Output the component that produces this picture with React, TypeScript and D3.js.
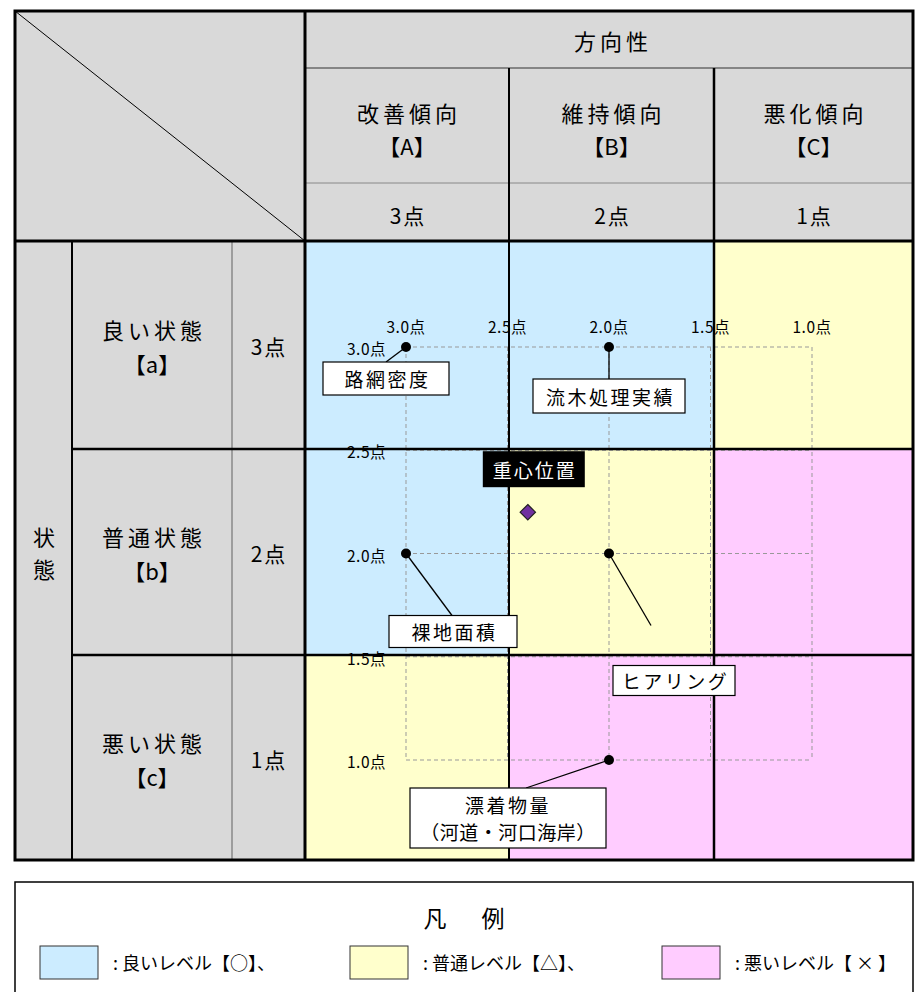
import React from "react";
import * as d3 from "d3";

// ---------- data ----------
const directionNames = ["改善傾向", "維持傾向", "悪化傾向"];
const directionCodes = ["【A】", "【B】", "【C】"];
const directionScores = ["3点", "2点", "1点"];
const stateNames = ["良い状態", "普通状態", "悪い状態"];
const stateCodes = ["【a】", "【b】", "【c】"];
const stateScores = ["3点", "2点", "1点"];
// level of each cell [row][col] : 0 good, 1 normal, 2 bad
const cellLevels = [
  [0, 0, 1],
  [0, 1, 2],
  [1, 2, 2],
];
const levelColors = ["#CCECFF", "#FFFFCC", "#FFCCFF"];
const legendLabels = [": 良いレベル【○】、", ": 普通レベル【△】、", ": 悪いレベル【 × 】"];
const axisTicks = [3.0, 2.5, 2.0, 1.5, 1.0];
const indicatorNames = ["路網密度", "流木処理実績", "裸地面積", "ヒアリング", "漂着物量|（河道・河口海岸）"];
const indicatorDirection = [3.0, 2.0, 3.0, 2.0, 2.0];
const indicatorState = [3.0, 3.0, 2.0, 2.0, 1.0];
const centroidValue = [2.4, 2.2];

// ---------- layout ----------
const FONT = "'Noto Sans CJK JP', 'Noto Sans', sans-serif";
const GRAY = "#D9D9D9";
const L = 15, R = 913, TOP = 11, BOT = 860;
const headerRows = [11, 68, 183, 241];
const bodyRows = [241, 449, 655, 860];
const bodyCols = [305, 509, 714, 913];
const leftCols = [15, 72, 232, 305];
// label boxes: offsets from point, box w/h, leader end offset
const boxLayout = [
  { dx: -20, dy: 31.5, w: 126, h: 33, lx: -20, ly: 15 },
  { dx: 0, dy: 49, w: 152, h: 34, lx: 0, ly: 32 },
  { dx: 47, dy: 78, w: 128, h: 32, lx: 46, ly: 62 },
  { dx: 65, dy: 127, w: 122, h: 30, lx: 42, ly: 72 },
  { dx: -101, dy: 58, w: 196, h: 60, lx: -83, ly: 28 },
];
const centroidBox = { dx: 6, dy: -43, w: 102, h: 36 };

export default function App() {
  const x = d3.scaleLinear().domain([3, 1]).range([406, 812]);
  const y = d3.scaleLinear().domain([3, 1]).range([347, 760]);
  const diamond = d3.symbol().type(d3.symbolDiamond2).size(150)();

  const jp = (props: any, txt: string, key?: any) => (
    <text key={key} fontFamily={FONT} fontWeight={400} fill="#000" dominantBaseline="central" textAnchor="middle" {...props}>
      {txt}
    </text>
  );

  const colMid = (i: number) => (bodyCols[i] + bodyCols[i + 1]) / 2;
  const rowMid = (i: number) => (bodyRows[i] + bodyRows[i + 1]) / 2;

  return (
    <svg width={916} height={992} style={{ position: "absolute", left: 0, top: 0, background: "#fff" }}>
      {/* fills */}
      <rect x={L} y={TOP} width={R - L} height={headerRows[3] - TOP} fill={GRAY} />
      <rect x={L} y={bodyRows[0]} width={bodyCols[0] - L} height={BOT - bodyRows[0]} fill={GRAY} />
      {cellLevels.map((row, ri) =>
        row.map((lv, ci) => (
          <rect
            key={`c${ri}${ci}`}
            x={bodyCols[ci]}
            y={bodyRows[ri]}
            width={bodyCols[ci + 1] - bodyCols[ci]}
            height={bodyRows[ri + 1] - bodyRows[ri]}
            fill={levelColors[lv]}
          />
        ))
      )}

      {/* dashed grid */}
      <g stroke="#999" strokeWidth={1} strokeDasharray="4,3" fill="none">
        {axisTicks.map((t) => (
          <line key={`gv${t}`} x1={x(t)} x2={x(t)} y1={y(3)} y2={y(1)} />
        ))}
        {axisTicks.map((t) => (
          <line key={`gh${t}`} x1={x(3)} x2={x(1)} y1={y(t)} y2={y(t)} />
        ))}
      </g>

      {/* table lines */}
      <line x1={L} y1={TOP} x2={bodyCols[0]} y2={headerRows[3]} stroke="#000" strokeWidth={1} />
      <line x1={bodyCols[0]} x2={R} y1={headerRows[1]} y2={headerRows[1]} stroke="#333" strokeWidth={1.2} />
      <line x1={bodyCols[0]} x2={R} y1={headerRows[2]} y2={headerRows[2]} stroke="#888" strokeWidth={1} />
      <line x1={bodyCols[1]} x2={bodyCols[1]} y1={headerRows[1]} y2={BOT} stroke="#000" strokeWidth={2} />
      <line x1={bodyCols[2]} x2={bodyCols[2]} y1={headerRows[1]} y2={BOT} stroke="#000" strokeWidth={2.5} />
      <line x1={leftCols[1]} x2={leftCols[1]} y1={bodyRows[0]} y2={BOT} stroke="#000" strokeWidth={2} />
      <line x1={leftCols[2]} x2={leftCols[2]} y1={bodyRows[0]} y2={BOT} stroke="#888" strokeWidth={1.5} />
      {[bodyRows[1], bodyRows[2]].map((yy) => (
        <line key={`hr${yy}`} x1={leftCols[1]} x2={R} y1={yy} y2={yy} stroke="#000" strokeWidth={2.5} />
      ))}
      <line x1={L} x2={R} y1={bodyRows[0]} y2={bodyRows[0]} stroke="#000" strokeWidth={3} />
      <line x1={bodyCols[0]} x2={bodyCols[0]} y1={TOP} y2={BOT} stroke="#000" strokeWidth={3} />
      <rect x={L} y={TOP} width={R - L} height={BOT - TOP} fill="none" stroke="#000" strokeWidth={3} />

      {/* header texts */}
      {jp({ x: 613, y: 40, fontSize: 22, letterSpacing: 4 }, "方向性")}
      {directionNames.map((n, i) => (
        <g key={`dh${i}`}>
          {jp({ x: colMid(i) + 2, y: 112, fontSize: 22, letterSpacing: 4 }, n)}
          {jp({ x: colMid(i), y: 145, fontSize: 22 }, directionCodes[i])}
          {jp({ x: colMid(i) + 1, y: 215, fontSize: 21, letterSpacing: 2 }, directionScores[i])}
        </g>
      ))}

      {/* left texts */}
      {jp({ x: 44, y: 536, fontSize: 22 }, "状")}
      {jp({ x: 44, y: 568, fontSize: 22 }, "態")}
      {stateNames.map((n, i) => (
        <g key={`sh${i}`}>
          {jp({ x: 154, y: rowMid(i) - 16, fontSize: 22, letterSpacing: 4 }, n)}
          {jp({ x: 152, y: rowMid(i) + 18, fontSize: 22 }, stateCodes[i])}
          {jp({ x: 269, y: rowMid(i) + 1, fontSize: 21, letterSpacing: 2 }, stateScores[i])}
        </g>
      ))}

      {/* axis labels */}
      {axisTicks.map((t) => jp({ x: x(t), y: 326, fontSize: 15.5, letterSpacing: 0.5 }, `${t.toFixed(1)}点`, `xt${t}`))}
      {axisTicks.map((t) =>
        jp({ x: 386, y: y(t) + 1, fontSize: 15.5, textAnchor: "end", letterSpacing: 0.5 }, `${t.toFixed(1)}点`, `yt${t}`)
      )}

      {/* leaders */}
      {indicatorNames.map((_, i) => {
        const px = x(indicatorDirection[i]);
        const py = y(indicatorState[i]);
        const b = boxLayout[i];
        return <line key={`ld${i}`} x1={px} y1={py} x2={px + b.lx} y2={py + b.ly} stroke="#000" strokeWidth={1.3} />;
      })}

      {/* points */}
      {indicatorNames.map((_, i) => (
        <circle key={`pt${i}`} cx={x(indicatorDirection[i])} cy={y(indicatorState[i])} r={5} fill="#000" />
      ))}

      {/* label boxes */}
      {indicatorNames.map((n, i) => {
        const px = x(indicatorDirection[i]);
        const py = y(indicatorState[i]);
        const b = boxLayout[i];
        const cx = px + b.dx;
        const cy = py + b.dy;
        const lines = n.split("|");
        return (
          <g key={`bx${i}`}>
            <rect x={cx - b.w / 2} y={cy - b.h / 2} width={b.w} height={b.h} fill="#fff" stroke="#000" strokeWidth={1.2} />
            {lines.map((ln, k) =>
              jp(
                {
                  x: cx + (lines.length > 1 ? 0 : 1.5),
                  y: cy + (k - (lines.length - 1) / 2) * 27,
                  fontSize: 19,
                  letterSpacing: lines.length > 1 && k === 1 ? 0.5 : 2.5,
                },
                ln,
                k
              )
            )}
          </g>
        );
      })}

      {/* centroid */}
      {(() => {
        const cx = x(centroidValue[0]);
        const cy = y(centroidValue[1]);
        return (
          <g>
            <path d={diamond} transform={`translate(${cx},${cy})`} fill="#7030A0" stroke="#222" strokeWidth={1.2} />
            <rect x={cx + centroidBox.dx - centroidBox.w / 2} y={cy + centroidBox.dy - centroidBox.h / 2} width={centroidBox.w} height={centroidBox.h} fill="#000" />
            {jp({ x: cx + centroidBox.dx + 1, y: cy + centroidBox.dy, fontSize: 19, letterSpacing: 2, fill: "#fff" }, "重心位置")}
          </g>
        );
      })()}

      {/* legend */}
      <rect x={L} y={882} width={R - L} height={130} fill="#fff" stroke="#000" strokeWidth={1.5} />
      {jp({ x: 435, y: 917, fontSize: 23 }, "凡")}
      {jp({ x: 493, y: 917, fontSize: 23 }, "例")}
      {legendLabels.map((lab, i) => {
        const sx = [40, 350, 662][i];
        return (
          <g key={`lg${i}`}>
            <rect x={sx} y={946} width={58} height={33} fill={levelColors[i]} stroke="#333" strokeWidth={1} />
            {jp({ x: sx + 73, y: 962, fontSize: 18, textAnchor: "start" }, lab)}
          </g>
        );
      })}
    </svg>
  );
}
